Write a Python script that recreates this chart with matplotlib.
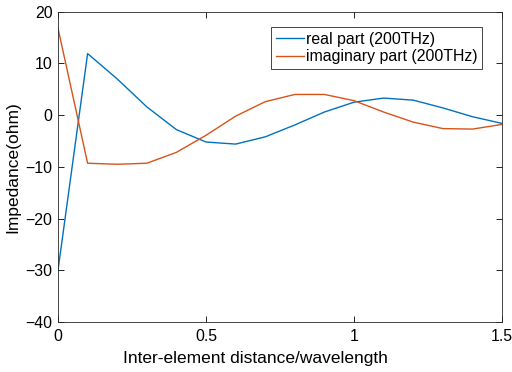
import numpy as np
import matplotlib.pyplot as plt

plt.rcParams['font.family'] = ['Liberation Sans', 'DejaVu Sans']

# data
d = [0.0, 0.1, 0.2, 0.3, 0.4, 0.5, 0.6, 0.7, 0.8, 0.9, 1.0, 1.1, 1.2, 1.3, 1.4, 1.5]
real_part = [-30.0, 11.9, 7.0, 1.6, -2.8, -5.2, -5.6, -4.2, -1.9, 0.6, 2.5, 3.3, 2.9, 1.4, -0.3, -1.6]
imag_part = [16.8, -9.3, -9.5, -9.3, -7.2, -3.9, -0.2, 2.6, 4.0, 4.0, 2.8, 0.6, -1.35, -2.6, -2.7, -1.8]

fig = plt.figure(figsize=(5.12, 3.72), dpi=100)
ax = fig.add_axes([58/512, 1 - 322/372, 444/512, 310.3/372])

ax.plot(d, real_part, color='#0072BD', lw=1.0, label='real part (200THz)')
ax.plot(d, imag_part, color='#D95319', lw=1.0, label='imaginary part (200THz)')

ax.set_xlim(0, 1.5)
ax.set_ylim(-40, 20)
ax.set_xticks([0, 0.5, 1, 1.5])
ax.set_xticklabels(['0', '0.5', '1', '1.5'])
ax.set_yticks([-40, -30, -20, -10, 0, 10, 20])
ax.tick_params(direction='in', top=True, right=True, labelsize=11.4, length=4, width=0.6, pad=4)
ax.tick_params(axis='x', pad=5)
for s in ax.spines.values():
    s.set_linewidth(0.6)
    s.set_color('#262626')

ax.set_xlabel('Inter-element distance/wavelength', fontsize=12.5, labelpad=5, x=0.444)
ax.set_ylabel('Impedance(ohm)', fontsize=12.5, labelpad=4)

leg = ax.legend(loc='upper right', bbox_to_anchor=(0.955, 0.95), fontsize=11.4, fancybox=False,
                edgecolor='#262626', framealpha=1, handlelength=1.8, handletextpad=0.1,
                borderpad=0.3, labelspacing=0.15, borderaxespad=0)
leg.get_frame().set_linewidth(0.6)

fig.savefig('out.png', dpi=100)
